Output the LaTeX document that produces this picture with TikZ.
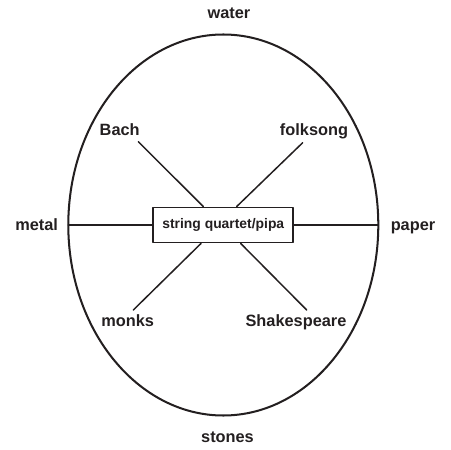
\documentclass[tikz,border=0pt]{standalone}
\usepackage{fontspec}
\setmainfont{Liberation Sans}
\usetikzlibrary{calc}
\definecolor{ink}{HTML}{231F20}

\begin{document}
\begin{tikzpicture}[line cap=round,line join=round,x=0.02cm,y=0.02cm,
  label/.style={anchor=base,inner sep=0pt,font=\fontsize{9.3}{11}\selectfont\bfseries,text=ink},
  spoke/.style={draw=ink,line width=0.85pt}]
\useasboundingbox (-223.3,-225.0) rectangle (226.7,225.0);

\coordinate (O) at (0.0, 0.0);

\draw[ink,line width=1.15pt] (O) ellipse[x radius=155, y radius=190.5];

\node[draw=ink,line width=1.1pt,fill=white,minimum width=140*0.02cm,minimum height=35*0.02cm,inner sep=0pt,
  font=\fontsize{7.9}{9}\selectfont\bfseries,text=ink] (sq) at (O) {string quartet/pipa};

\coordinate (L) at (-155.0, 0.0);
\coordinate (R) at (155.0, 0.0);
\coordinate (UL) at (-85.0, 83.3);
\coordinate (UR) at (79.4, 82.3);
\coordinate (LL) at (-90.0, -85.0);
\coordinate (LR) at (83.4, -85.0);

\draw[spoke] (sq.west) -- (L);
\draw[spoke] (sq.east) -- (R);
\draw[spoke] ([xshift=-20*0.02cm]sq.north) -- (UL);
\draw[spoke] ([xshift=13.4*0.02cm]sq.north) -- (UR);
\draw[spoke] ([xshift=-22.3*0.02cm]sq.south) -- (LL);
\draw[spoke] ([xshift=17.4*0.02cm]sq.south) -- (LR);

\node[label] (water) at (5.7, 206.0) {water};
\node[label] (stones) at (4.2, -217.7) {stones};
\node[label] (metal) at (-186.6, -5.3) {metal};
\node[label] (paper) at (189.7, -5.3) {paper};
\node[label] (bach) at (-103.6, 90.0) {Bach};
\node[label] (folksong) at (90.7, 90.0) {folksong};
\node[label] (monks) at (-95.6, -101.0) {monks};
\node[label] (shakespeare) at (72.7, -101.0) {Shakespeare};
\end{tikzpicture}
\end{document}
